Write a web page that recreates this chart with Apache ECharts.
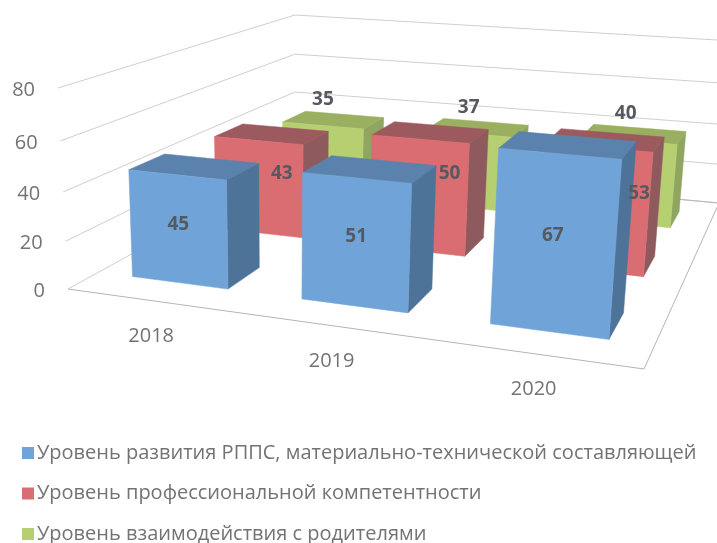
<!DOCTYPE html>
<html>
<head>
<meta charset="utf-8">
<style>html,body{margin:0;padding:0;background:#fff}#main{width:717px;height:543px}</style>
<script src="https://cdn.jsdelivr.net/npm/echarts@6/dist/echarts.min.js"></script>
</head>
<body>
<div id="main"></div>
<script>
var categories = ['2018', '2019', '2020'];
var yTicks = [0, 20, 40, 60, 80];
var seriesNames = [
  'Уровень развития РППС, материально-технической составляющей',
  'Уровень профессиональной компетентности',
  'Уровень взаимодействия с родителями'
];
var blueValues = [45, 51, 67];
var redValues = [43, 50, 53];
var greenValues = [35, 37, 40];

// colours per row: front, side, top
var faces = [
  ['#70a4d8', '#4e7399', '#5a82ac'],
  ['#da6d72', '#8f5a5e', '#9c5a5e'],
  ['#b6cf70', '#8fa560', '#9ab060']
];
var FONT = '"Open Sans"';
var TEXT = '#737373';

// corners of the skewed box on the page
function squareToQuad(p) {
  var sx = p[0][0] - p[1][0] + p[2][0] - p[3][0], sy = p[0][1] - p[1][1] + p[2][1] - p[3][1];
  var dx1 = p[1][0] - p[2][0], dx2 = p[3][0] - p[2][0], dy1 = p[1][1] - p[2][1], dy2 = p[3][1] - p[2][1];
  var det = dx1 * dy2 - dx2 * dy1;
  var g = (sx * dy2 - dx2 * sy) / det, h = (dx1 * sy - sx * dy1) / det;
  return function (u, v) {
    var w = g * u + h * v + 1;
    return [
      ((p[1][0] - p[0][0] + g * p[1][0]) * u + (p[3][0] - p[0][0] + h * p[3][0]) * v + p[0][0]) / w,
      ((p[1][1] - p[0][1] + g * p[1][1]) * u + (p[3][1] - p[0][1] + h * p[3][1]) * v + p[0][1]) / w
    ];
  };
}
var floorMap = squareToQuad([[68, 289], [644, 369], [719, 203], [295, 164]]);
var topMap = squareToQuad([[58, 88], [662, 140], [734, 41], [295, 15]]);
function project(u, v, t) {
  var a = floorMap(u, v), b = topMap(u, v);
  // heights get a bit shorter towards the floor (perspective)
  var k = t / (1 + 0.07 * (1 - t));
  return [a[0] + (b[0] - a[0]) * k, a[1] + (b[1] - a[1]) * k];
}

// box fractions come from the hidden axes: grid spans the whole page
function toBox(api, cat, val) {
  var c = api.coord([cat, val]);
  return { u: c[0] / api.getWidth(), t: 1 - c[1] / api.getHeight() };
}
var halfW = 0.096, halfD = 0.065;

function barRenderer(row) {
  var vc = (2 * row + 1) / 6, v0 = vc - halfD, v1 = vc + halfD, col = faces[row];
  return function (params, api) {
    var b = toBox(api, api.value(0), api.value(1));
    var u0 = b.u - halfW, u1 = b.u + halfW, t = b.t;
    function poly(points, fill) {
      return { type: 'polygon', shape: { points: points }, style: { fill: fill, stroke: fill, lineWidth: 0.5 } };
    }
    return {
      type: 'group',
      children: [
        poly([project(u1, v0, 0), project(u1, v1, 0), project(u1, v1, t), project(u1, v0, t)], col[1]),
        poly([project(u0, v0, t), project(u1, v0, t), project(u1, v1, t), project(u0, v1, t)], col[2]),
        poly([project(u0, v0, 0), project(u1, v0, 0), project(u1, v0, t), project(u0, v0, t)], col[0])
      ]
    };
  };
}

// where the value labels sit on each row, plus hand nudges (the originals were moved by hand)
var labelPlace = [
  { du: 0, dv: -halfD, tk: 0.5, dy: -5 },
  { du: 0.055, dv: -halfD, tk: 0.62, dy: 0 },
  { du: -0.045, dv: halfD, tk: 1, dy: -13 }
];
var labelNudge = [
  [[0, 0], [1, -2], [-1, -4]],
  [[-2, -5], [3, -12], [13, -5]],
  [[-3, 0], [3, 0], [8, 0]]
];
function labelRenderer(params, api) {
  var row = api.value(2), cat = api.value(0), b = toBox(api, cat, api.value(1)), lp = labelPlace[row];
  var p = project(b.u + lp.du, (2 * row + 1) / 6 + lp.dv, b.t * lp.tk);
  var n = labelNudge[row][cat];
  return {
    type: 'text', x: p[0] + n[0], y: p[1] + lp.dy + n[1],
    style: { text: String(api.value(1)), font: 'bold 19px ' + FONT, fill: '#565a60', textAlign: 'center', textVerticalAlign: 'middle' }
  };
}

function wallRenderer(params, api) {
  var t = toBox(api, 0, api.value(0)).t;
  var a = project(0, 0, t), b = project(0, 1, t), c = project(1, 1, t);
  var children = [
    { type: 'polyline', shape: { points: [a, b, c] }, style: { fill: null, stroke: '#cfcfcf', lineWidth: 1 } },
    { type: 'text', x: a[0] - 23, y: a[1] + 2, style: { text: String(api.value(0)), font: '20px ' + FONT, fill: TEXT, textAlign: 'right', textVerticalAlign: 'middle' } }
  ];
  if (params.dataIndex === 0) {
    children.push({ type: 'polyline', shape: { points: [b, c, project(1, 0, 0), a] }, style: { fill: null, stroke: '#b5b5b5', lineWidth: 1 } });
  }
  return { type: 'group', children: children };
}

function catRenderer(params, api) {
  var b = toBox(api, api.value(0), 0), p = project(b.u, 0, 0);
  return {
    type: 'text', x: p[0], y: p[1] + 35.5,
    style: { text: categories[api.value(0)], font: '20px ' + FONT, fill: TEXT, textAlign: 'center', textVerticalAlign: 'middle' }
  };
}

var allValues = [blueValues, redValues, greenValues];
var seriesList = [
  { type: 'custom', name: 'walls', z: 1, silent: true, renderItem: wallRenderer, data: yTicks.map(function (t) { return [t]; }) },
  { type: 'custom', name: 'cats', z: 1, silent: true, renderItem: catRenderer, data: categories.map(function (c, i) { return [i]; }) }
];
allValues.forEach(function (vals, row) {
  seriesList.push({
    type: 'custom', name: seriesNames[row], z: 5 - row, silent: true,
    renderItem: barRenderer(row),
    itemStyle: { color: faces[row][0] },
    data: vals.map(function (v, i) { return [i, v]; })
  });
});
var labelData = [];
allValues.forEach(function (vals, row) {
  vals.forEach(function (v, i) { labelData.push([i, v, row]); });
});
seriesList.push({ type: 'custom', name: 'labels', z: 10, silent: true, renderItem: labelRenderer, data: labelData });

var myChart = echarts.init(document.getElementById('main'), null, { renderer: 'canvas' });
myChart.setOption({
  animation: false,
  backgroundColor: '#ffffff',
  grid: { left: 0, top: 0, right: 0, bottom: 0 },
  xAxis: { type: 'category', data: categories, show: false },
  yAxis: { type: 'value', min: 0, max: 80, show: false },
  legend: {
    data: seriesNames, orient: 'vertical', left: 22, top: 443, height: 200, itemGap: 20.5, itemWidth: 12, itemHeight: 12,
    icon: 'rect', selectedMode: false, padding: 0,
    textStyle: { fontFamily: FONT, fontSize: 20, color: TEXT, padding: [0, 0, 0, -2] }
  },
  series: seriesList
});
</script>
</body>
</html>
